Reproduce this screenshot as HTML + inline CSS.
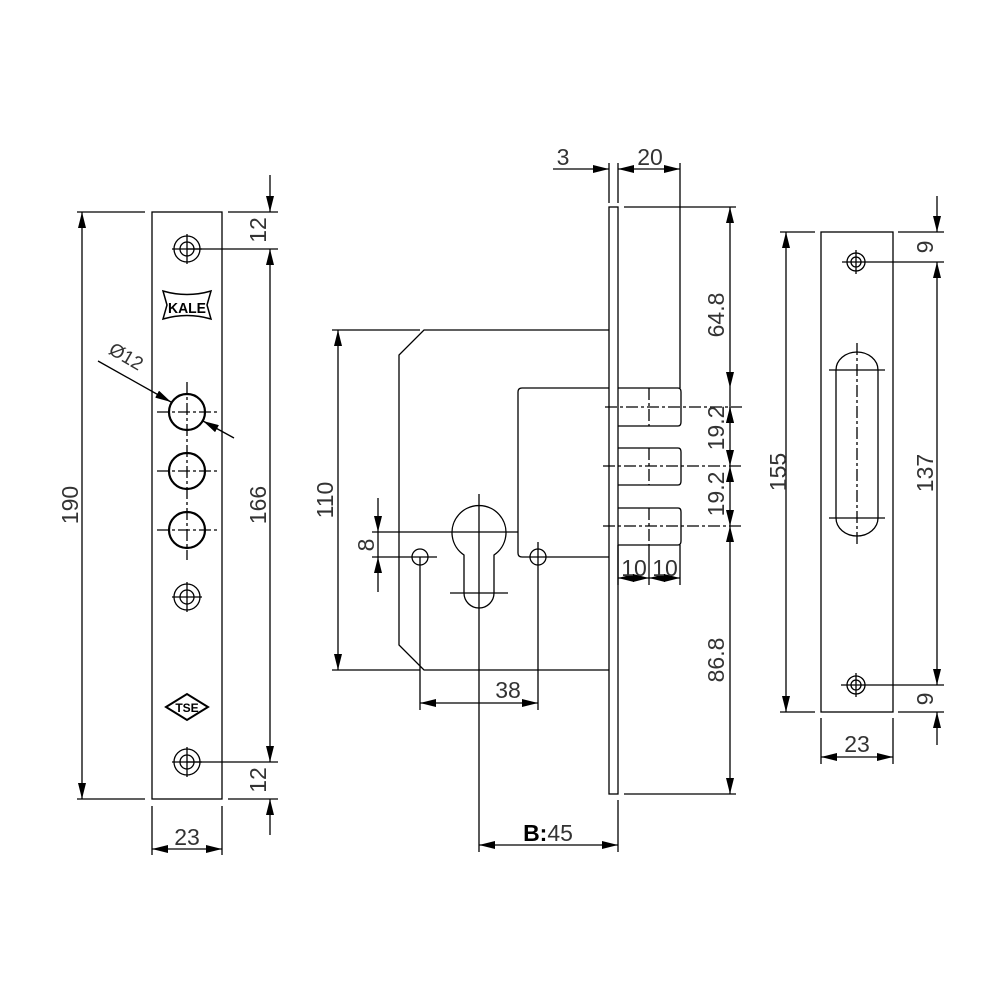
<!DOCTYPE html>
<html><head><style>html,body{margin:0;padding:0;background:#fff}</style></head><body>
<svg width="1000" height="1000" viewBox="0 0 1000 1000" xmlns="http://www.w3.org/2000/svg" font-family="Liberation Sans, sans-serif">
<defs>
<marker id="a" viewBox="0 0 16 8" refX="16" refY="4" markerWidth="16" markerHeight="8" markerUnits="userSpaceOnUse" orient="auto-start-reverse"><path d="M0,0 L16,4 L0,8 Z" fill="#000"/></marker>
</defs>
<rect width="1000" height="1000" fill="#fff"/>
<g stroke="#000" stroke-width="1.3" fill="none">
<!-- LEFT FACEPLATE -->
<rect x="152" y="212" width="70" height="587"/>
<line x1="77" y1="212" x2="145" y2="212"/><line x1="77" y1="799" x2="145" y2="799"/>
<line x1="82" y1="212" x2="82" y2="799" marker-start="url(#a)" marker-end="url(#a)"/>
<line x1="228" y1="212" x2="278" y2="212"/><line x1="187" y1="249" x2="278" y2="249"/>
<line x1="187" y1="762" x2="278" y2="762"/><line x1="228" y1="799" x2="278" y2="799"/>
<line x1="270" y1="175" x2="270" y2="212" marker-end="url(#a)"/>
<line x1="270" y1="249" x2="270" y2="762" marker-start="url(#a)" marker-end="url(#a)"/>
<line x1="270" y1="799" x2="270" y2="835" marker-start="url(#a)"/>
<line x1="152" y1="806" x2="152" y2="855"/><line x1="222" y1="806" x2="222" y2="855"/>
<line x1="152" y1="849" x2="222" y2="849" marker-start="url(#a)" marker-end="url(#a)"/>
<!-- screw holes -->
<g>
<circle cx="187" cy="249" r="13"/><circle cx="187" cy="249" r="7"/>
<line x1="187" y1="234" x2="187" y2="264"/><line x1="172" y1="249" x2="202" y2="249"/>
<circle cx="187" cy="597" r="13"/><circle cx="187" cy="597" r="7"/>
<line x1="187" y1="582" x2="187" y2="612"/><line x1="172" y1="597" x2="202" y2="597"/>
<circle cx="187" cy="762" r="13"/><circle cx="187" cy="762" r="7"/>
<line x1="187" y1="747" x2="187" y2="777"/><line x1="172" y1="762" x2="202" y2="762"/>
</g>
<g stroke-width="2.2">
<circle cx="187" cy="412" r="18"/><circle cx="187" cy="471" r="18"/><circle cx="187" cy="530" r="18"/>
</g>
<g stroke-dasharray="12,3,3,3">
<line x1="187" y1="382" x2="187" y2="560"/>
<line x1="157" y1="412" x2="217" y2="412"/><line x1="157" y1="471" x2="217" y2="471"/><line x1="157" y1="530" x2="217" y2="530"/>
</g>
<line x1="98" y1="361" x2="171" y2="402" marker-end="url(#a)"/>
<line x1="234" y1="438" x2="203" y2="421" marker-end="url(#a)"/>
<!-- KALE logo -->
<path d="M163,291 Q187,298 211,291 L207,305 L211,319 Q187,312 163,319 L167,305 Z" stroke-width="1.5"/>
<!-- TSE -->
<path d="M166,707 L187,694 L208,707 L187,720 Z" stroke-width="2"/>

<!-- CENTER LOCK -->
<rect x="609" y="207" width="9" height="587"/>
<line x1="609" y1="163" x2="609" y2="203"/><line x1="618" y1="163" x2="618" y2="203"/>
<line x1="680" y1="163" x2="680" y2="388"/>
<line x1="553" y1="169" x2="609" y2="169" marker-end="url(#a)"/>
<line x1="618" y1="169" x2="680" y2="169" marker-start="url(#a)" marker-end="url(#a)"/>
<line x1="624" y1="207" x2="736" y2="207"/><line x1="624" y1="794" x2="736" y2="794"/>
<line x1="730" y1="207" x2="730" y2="388" marker-start="url(#a)" marker-end="url(#a)"/>
<line x1="730" y1="388" x2="730" y2="407" />
<line x1="730" y1="420" x2="730" y2="407" marker-end="url(#a)"/>
<line x1="730" y1="407" x2="730" y2="466" marker-start="url(#a)" marker-end="url(#a)"/>
<line x1="730" y1="466" x2="730" y2="526" marker-start="url(#a)" marker-end="url(#a)"/>
<line x1="730" y1="526" x2="730" y2="794" marker-start="url(#a)" marker-end="url(#a)"/>
<!-- bolts -->
<path d="M618,388 H678 Q681,388 681,392 V422 Q681,426 678,426 H618"/>
<path d="M618,448 H678 Q681,448 681,452 V481 Q681,485 678,485 H618"/>
<path d="M618,508 H678 Q681,508 681,512 V541 Q681,545 678,545 H618"/>
<line x1="680" y1="545" x2="680" y2="585"/><line x1="649" y1="545" x2="649" y2="585"/><line x1="618" y1="545" x2="618" y2="585"/>
<line x1="618" y1="578" x2="649" y2="578" marker-start="url(#a)" marker-end="url(#a)"/>
<line x1="649" y1="578" x2="680" y2="578" marker-start="url(#a)" marker-end="url(#a)"/>
<g stroke-dasharray="12,3,3,3">
<line x1="649" y1="388" x2="649" y2="426"/><line x1="649" y1="448" x2="649" y2="485"/><line x1="649" y1="508" x2="649" y2="545"/>
<line x1="605" y1="407" x2="742" y2="407"/><line x1="603" y1="466" x2="742" y2="466"/><line x1="603" y1="526" x2="742" y2="526"/>
</g>
<!-- body -->
<path d="M609,330 H424 L399,355 V645 L424,670 H609"/>
<line x1="332" y1="330" x2="420" y2="330"/><line x1="332" y1="670" x2="420" y2="670"/>
<line x1="338" y1="330" x2="338" y2="670" marker-start="url(#a)" marker-end="url(#a)"/>
<path d="M609,388 H522 Q518,388 518,392 V553 Q518,557 522,557 H609"/>
<!-- keyhole -->
<path d="M464,555 A27,27 0 1 1 494,555 V593 A15,15 0 0 1 464,593 Z"/>
<line x1="479" y1="494" x2="479" y2="852"/>
<line x1="450" y1="593" x2="508" y2="593"/>
<line x1="372" y1="532" x2="518" y2="532"/>
<circle cx="420" cy="557" r="8"/><circle cx="538" cy="557" r="8"/>
<line x1="372" y1="557" x2="437" y2="557"/>
<line x1="420" y1="557" x2="420" y2="710"/><line x1="538" y1="542" x2="538" y2="710"/>
<line x1="378" y1="498" x2="378" y2="532" marker-end="url(#a)"/>
<line x1="378" y1="592" x2="378" y2="557" marker-end="url(#a)"/>
<line x1="378" y1="532" x2="378" y2="557"/>
<line x1="420" y1="703" x2="538" y2="703" marker-start="url(#a)" marker-end="url(#a)"/>
<line x1="618" y1="800" x2="618" y2="852"/>
<line x1="479" y1="845" x2="618" y2="845" marker-start="url(#a)" marker-end="url(#a)"/>

<!-- RIGHT STRIKE -->
<rect x="821" y="232" width="72" height="480"/>
<line x1="780" y1="232" x2="815" y2="232"/><line x1="780" y1="712" x2="815" y2="712"/>
<line x1="786" y1="232" x2="786" y2="712" marker-start="url(#a)" marker-end="url(#a)"/>
<circle cx="856" cy="262" r="9"/><circle cx="856" cy="262" r="5"/>
<line x1="856" y1="250" x2="856" y2="274"/><line x1="842" y1="262" x2="944" y2="262"/>
<circle cx="856" cy="685" r="9"/><circle cx="856" cy="685" r="5"/>
<line x1="856" y1="673" x2="856" y2="697"/><line x1="841" y1="685" x2="944" y2="685"/>
<line x1="898" y1="232" x2="944" y2="232"/><line x1="898" y1="712" x2="944" y2="712"/>
<line x1="937" y1="196" x2="937" y2="232" marker-end="url(#a)"/>
<line x1="937" y1="262" x2="937" y2="685" marker-start="url(#a)" marker-end="url(#a)"/>
<line x1="937" y1="745" x2="937" y2="712" marker-end="url(#a)"/>
<path d="M836,370 A21,18 0 0 1 878,370 V518 A21,18 0 0 1 836,518 Z"/>
<line x1="829" y1="370" x2="885" y2="370"/><line x1="829" y1="518" x2="885" y2="518"/>
<line x1="857" y1="343" x2="857" y2="544" stroke-dasharray="12,3,3,3"/>
<line x1="821" y1="718" x2="821" y2="764"/><line x1="893" y1="718" x2="893" y2="764"/>
<line x1="821" y1="757" x2="893" y2="757" marker-start="url(#a)" marker-end="url(#a)"/>
</g>

<g font-size="23" fill="#333" text-anchor="middle">
<text transform="translate(78,505) rotate(-90)">190</text>
<text transform="translate(266,230) rotate(-90)">12</text>
<text transform="translate(266,505) rotate(-90)">166</text>
<text transform="translate(266,780) rotate(-90)">12</text>
<text x="187" y="845">23</text>
<text transform="translate(123,362) rotate(30)" font-size="19">Ø12</text>
<text x="563" y="165">3</text>
<text x="650" y="165">20</text>
<text transform="translate(724,315) rotate(-90)">64.8</text>
<text transform="translate(724,428) rotate(-90)">19.2</text>
<text transform="translate(724,494) rotate(-90)">19.2</text>
<text transform="translate(724,660) rotate(-90)">86.8</text>
<text x="634" y="576">10</text>
<text x="665" y="576">10</text>
<text transform="translate(333,500) rotate(-90)">110</text>
<text transform="translate(374,545) rotate(-90)">8</text>
<text x="508" y="698">38</text>
<text x="548" y="841"><tspan font-weight="bold" fill="#000">B:</tspan>45</text>
<text transform="translate(786,472) rotate(-90)">155</text>
<text transform="translate(933,247) rotate(-90)">9</text>
<text transform="translate(933,473) rotate(-90)">137</text>
<text transform="translate(933,699) rotate(-90)">9</text>
<text x="857" y="752">23</text>
</g>
<text x="187" y="313" font-size="15" font-weight="bold" text-anchor="middle" font-family="Liberation Sans Narrow, Liberation Sans, sans-serif" textLength="38" lengthAdjust="spacingAndGlyphs">KALE</text>
<text x="187" y="712" font-size="12" font-weight="bold" text-anchor="middle">TSE</text>
</svg>
</body></html>
